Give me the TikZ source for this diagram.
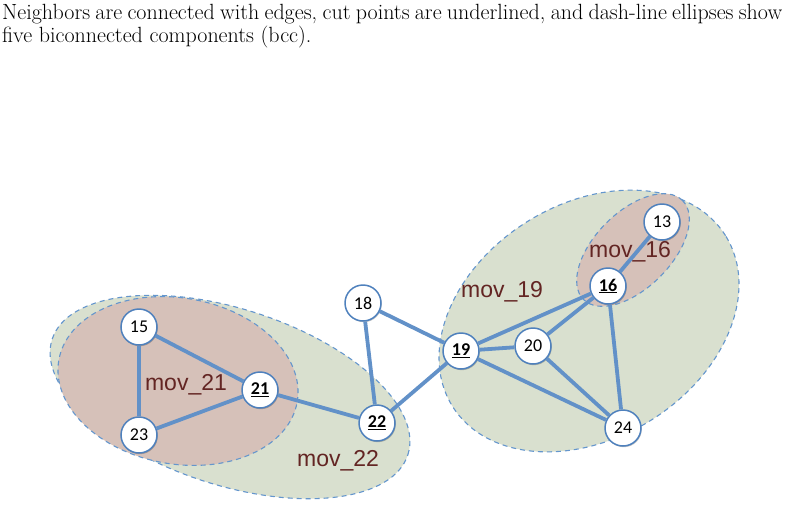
\documentclass[tikz,border=0pt]{standalone}
\usepackage{fontspec}
\newfontfamily\carlito{Carlito}
\newfontfamily\arialike{Liberation Sans}
\usetikzlibrary{shadows}
\definecolor{edgeblue}{RGB}{98,145,200}
\definecolor{rimblue}{RGB}{79,129,189}
\definecolor{dashblue}{RGB}{100,150,205}
\definecolor{greenfill}{RGB}{217,224,207}
\definecolor{pinkfill}{RGB}{214,193,185}
\definecolor{labred}{RGB}{99,37,35}
\tikzset{
 vtx/.style={circle, draw=rimblue, line width=1.5pt, fill=white, minimum size=36pt, inner sep=0pt,
   font=\carlito\fontsize{18}{18}\selectfont,
   drop shadow={opacity=0.22, shadow xshift=0.8pt, shadow yshift=-1.2pt, fill=black}},
 cutvtx/.style={vtx, font=\carlito\bfseries\fontsize{18}{18}\selectfont},
 link/.style={draw=edgeblue, line width=3.8pt},
 bcc/.style={draw=dashblue, dash pattern=on 5pt off 4pt, line width=1.1pt},
 movlabel/.style={text=labred, font=\arialike\fontsize{23}{23}\selectfont, inner sep=0pt},
 captext/.style={anchor=base west, inner sep=0pt, font=\fontsize{22}{25}\selectfont}
}
\begin{document}
\begin{tikzpicture}[x=1pt,y=-1pt]
\useasboundingbox (0,0) rectangle (789,509);
% caption
\node[captext] (cap1) at (2,19.5) {\makebox[780pt][s]{Neighbors are connected with edges, cut points are underlined, and dash-line ellipses show}};
\node[captext] (cap2) at (2,42.5) {five biconnected components (bcc).};
% biconnected components
\path[bcc, fill=greenfill, rotate around={-18:(230,397)}] (230,397) ellipse [x radius=187pt, y radius=88pt];
\path[bcc, fill=greenfill, rotate around={32:(589,321)}] (589,321) ellipse [x radius=161pt, y radius=117pt];
\path[bcc, fill=pinkfill, rotate around={-10:(178,381)}] (178,381) ellipse [x radius=121pt, y radius=83pt];
\path[bcc, fill=pinkfill, rotate around={45:(633,250)}] (633,250) ellipse [x radius=70pt, y radius=38pt];
% labels
\node[movlabel] (l21) at (186,385) {mov\_21};
\node[movlabel] (l22) at (338,461) {mov\_22};
\node[movlabel] (l19) at (502,292) {mov\_19};
\node[movlabel] (l16) at (630,252) {mov\_16};
% vertices
\node[vtx] (n13) at (662,222) {13};
\node[cutvtx] (n16) at (608,286) {\underline{16}};
\node[vtx] (n18) at (363,303) {18};
\node[vtx] (n15) at (139,327) {15};
\node[cutvtx] (n19) at (461,351) {\underline{19}};
\node[vtx] (n20) at (533,346) {20};
\node[cutvtx] (n21) at (260,390) {\underline{21}};
\node[cutvtx] (n22) at (377,423) {\underline{22}};
\node[vtx] (n23) at (139,435) {23};
\node[vtx] (n24) at (623,428) {24};
% edges
\draw[link] (n15) -- (n23);
\draw[link] (n15) -- (n21);
\draw[link] (n23) -- (n21);
\draw[link] (n21) -- (n22);
\draw[link] (n18) -- (n22);
\draw[link] (n18) -- (n19);
\draw[link] (n22) -- (n19);
\draw[link] (n19) -- (n16);
\draw[link] (n19) -- (n20);
\draw[link] (n19) -- (n24);
\draw[link] (n20) -- (n16);
\draw[link] (n20) -- (n24);
\draw[link] (n16) -- (n24);
\draw[link] (n16) -- (n13);
\end{tikzpicture}
\end{document}
